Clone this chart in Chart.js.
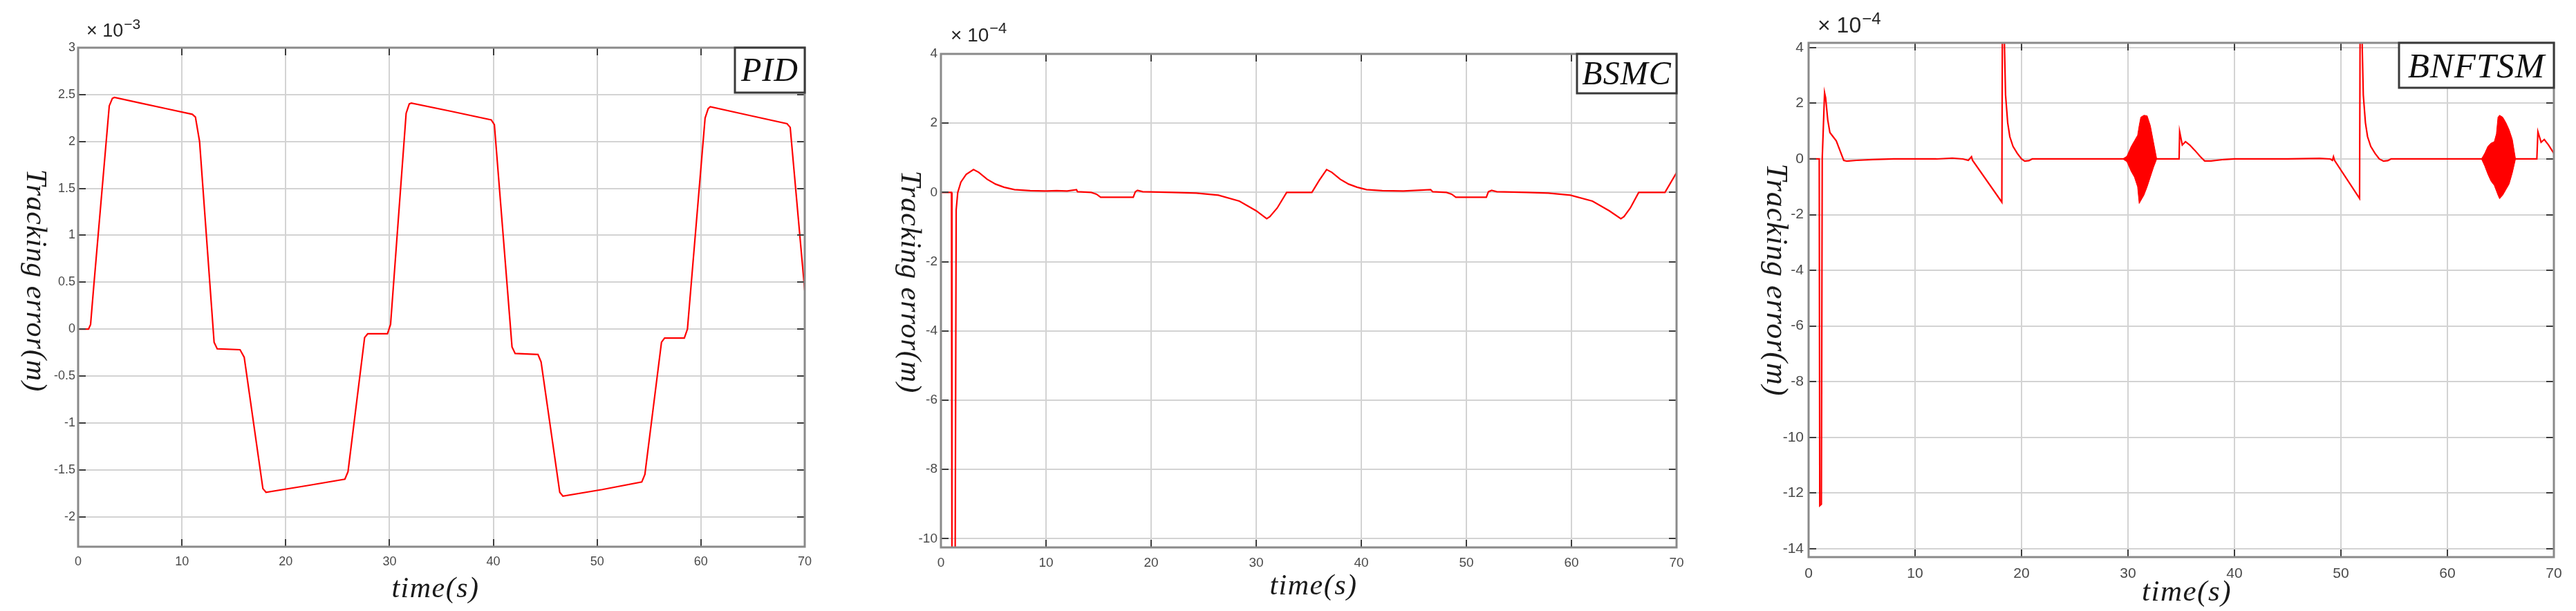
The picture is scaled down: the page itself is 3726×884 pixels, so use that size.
<!DOCTYPE html>
<html><head><meta charset="utf-8">
<script src="https://cdn.jsdelivr.net/npm/chart.js@4.4.1/dist/chart.umd.min.js"></script>
<style>
html,body{margin:0;padding:0;background:#fff;width:3726px;height:884px;overflow:hidden}
canvas{position:absolute;top:0}
</style>
</head><body>
<canvas id="c1" width="1240" height="884" style="left:0px"></canvas>
<canvas id="c2" width="1230" height="884" style="left:1240px"></canvas>
<canvas id="c3" width="1256" height="884" style="left:2470px"></canvas>
<script>
// ---- tick labels ----
const timeTicks = [0,10,20,30,40,50,60,70];
const pidTicks = [-2,-1.5,-1,-0.5,0,0.5,1,1.5,2,2.5,3];
const bsmcTicks = [-10,-8,-6,-4,-2,0,2,4];
const bnftsmTicks = [-14,-12,-10,-8,-6,-4,-2,0,2,4];

// ---- PID tracking error (x 10^-3 m) ----
const pidTime  = [0,1.0,1.2,1.5,3.0,3.3,3.5,6.0,8.5,11.0,11.3,11.7,13.1,13.4,15.6,16.0,17.8,18.1,22.0,25.7,26.0,27.6,27.9,29.8,30.1,31.6,31.9,32.1,36.0,39.8,40.1,41.8,42.1,44.3,44.6,46.4,46.7,50.5,54.3,54.6,56.2,56.5,58.4,58.7,60.4,60.7,60.9,64.6,68.3,68.6,70.0];
const pidError = [0,0,0.05,0.45,2.38,2.46,2.47,2.41,2.35,2.29,2.26,2.0,-0.14,-0.21,-0.22,-0.3,-1.70,-1.74,-1.67,-1.60,-1.52,-0.09,-0.05,-0.05,0.05,2.30,2.40,2.41,2.32,2.23,2.18,-0.19,-0.26,-0.27,-0.35,-1.74,-1.78,-1.71,-1.63,-1.55,-0.14,-0.095,-0.095,0,2.25,2.35,2.37,2.28,2.19,2.15,0.41];

// ---- BSMC tracking error (x 10^-4 m) ----
const bsmcTime  = [0,1.0,1.05,1.35,1.45,1.6,1.9,2.4,3.1,3.6,4.4,5.2,6.0,7.0,8.5,10,11,12,12.9,13.0,14.3,14.8,15.2,18.3,18.5,18.7,19.2,22,24.3,26.4,28.4,30.0,31.0,31.3,32.0,32.9,35.3,36.0,36.7,37.2,38.0,38.8,39.6,40.5,42,44,46.6,46.8,48.1,48.6,49.0,51.9,52.1,52.4,52.9,55.7,57.8,59.9,62.0,63.6,64.7,65.0,65.6,66.4,68.9,70];
const bsmcError = [0,0,-11,-11,-0.5,0,0.3,0.52,0.66,0.58,0.38,0.24,0.15,0.08,0.05,0.04,0.05,0.04,0.08,0.02,0,-0.05,-0.14,-0.14,0.02,0.06,0.02,0,-0.02,-0.08,-0.25,-0.53,-0.76,-0.7,-0.45,0,0,0.35,0.66,0.58,0.38,0.24,0.15,0.08,0.05,0.04,0.08,0.02,0,-0.05,-0.14,-0.14,0.02,0.06,0.02,0,-0.02,-0.08,-0.25,-0.53,-0.76,-0.7,-0.45,0,0,0.57];

// ---- BNFTSM tracking error (x 10^-4 m) ----
const bnftsmTime  = [0,1.0,1.05,1.2,1.28,1.5,1.6,1.8,2.0,2.3,2.6,2.9,3.3,3.6,4.5,6,8,10,12,13.5,14.5,15.0,15.3,15.4,18.15,18.22,18.3,18.4,18.5,18.7,18.9,19.2,19.6,20.0,20.3,20.7,21.0,29.5,32.7,34.8,34.85,35.1,35.4,35.8,36.3,36.8,37.2,37.8,39,40,45,48,49.0,49.2,49.3,49.4,51.75,51.82,51.9,52.0,52.1,52.3,52.5,52.8,53.2,53.6,54.0,54.4,54.7,63.2,66.4,68.4,68.5,68.8,69.1,69.5,70];
const bnftsmError = [0,0,-12.45,-12.4,0,2.38,2.2,1.4,0.95,0.8,0.65,0.35,-0.05,-0.08,-0.05,-0.02,0,0,0,0.03,0,-0.05,0.08,-0.05,-1.55,7,7,4,2.3,1.3,0.8,0.45,0.2,0,-0.08,-0.06,0,0,0,0,0.98,0.5,0.62,0.5,0.3,0.08,-0.07,-0.07,-0.02,0,0,0.02,0,-0.05,0.08,-0.05,-1.42,7,7,4,2.3,1.3,0.8,0.45,0.2,0,-0.08,-0.06,0,0,0,0,0.98,0.6,0.7,0.5,0.2];
// chattering bursts (envelopes)
const burst1Time  = [29.5,29.9,30.3,30.6,30.9,31.05,31.2,31.5,31.8,32.1,32.4,32.7];
const burst1Upper = [0,0.1,0.45,0.65,0.85,1.2,1.5,1.57,1.55,1.2,0.6,0];
const burst1Lower = [0,-0.1,-0.45,-0.65,-1.0,-1.6,-1.5,-1.3,-1.0,-0.65,-0.3,0];
const burst2Time  = [63.2,63.5,63.8,64.1,64.4,64.6,64.75,64.9,65.2,65.5,65.8,66.1,66.4];
const burst2Upper = [0,0.2,0.45,0.57,0.62,0.9,1.5,1.57,1.5,1.3,1.05,0.7,0];
const burst2Lower = [0,-0.25,-0.55,-0.8,-0.95,-1.15,-1.3,-1.43,-1.3,-1.1,-0.9,-0.5,0];

const pts = (xs, ys) => xs.map((x, i) => ({x, y: ys[i]}));

function txt(ctx, s, x, y, font, color, align, base, rot, sp) {
  ctx.save(); ctx.translate(x, y); if (rot) ctx.rotate(rot);
  ctx.font = font; ctx.fillStyle = color; ctx.textAlign = align; ctx.textBaseline = base;
  if ('letterSpacing' in ctx) ctx.letterSpacing = (sp || 0) + 'px';
  ctx.fillText(s, 0, 0); ctx.restore();
}

const SERIF = '"Liberation Serif","DejaVu Serif",serif';
const SANS = '"Liberation Sans",Arial,sans-serif';

const decor = {
  id: 'decor',
  afterDatasetsDraw(chart, args, o) {
    const ctx = chart.ctx, a = chart.chartArea, off = o.off;
    const xs = chart.scales.x, ys = chart.scales.y;
    ctx.save();
    ctx.strokeStyle = '#3c3c3c'; ctx.lineWidth = 2;
    ys.ticks.forEach(t => {
      const y = Math.round(ys.getPixelForValue(t.value));
      ctx.beginPath(); ctx.moveTo(a.left, y); ctx.lineTo(a.left + 11, y);
      ctx.moveTo(a.right, y); ctx.lineTo(a.right - 11, y); ctx.stroke();
    });
    xs.ticks.forEach(t => {
      const x = Math.round(xs.getPixelForValue(t.value));
      ctx.beginPath(); ctx.moveTo(x, a.bottom); ctx.lineTo(x, a.bottom - 11);
      ctx.moveTo(x, a.top); ctx.lineTo(x, a.top + 11); ctx.stroke();
    });
    ctx.strokeStyle = '#8a8a8a'; ctx.lineWidth = 3;
    ctx.strokeRect(a.left, a.top, a.right - a.left, a.bottom - a.top);
    // label box
    const b = o.box;
    ctx.fillStyle = '#fff';
    ctx.fillRect(b.l - off, b.t, b.r - b.l, b.b - b.t);
    ctx.strokeStyle = '#3a3a3a'; ctx.lineWidth = 3;
    ctx.strokeRect(b.l - off, b.t, b.r - b.l, b.b - b.t);
    txt(ctx, b.text, (b.l + b.r) / 2 - off, b.base, 'italic ' + b.size + 'px ' + SERIF, '#111', 'center', 'alphabetic', 0, 1);
    ctx.restore();
  },
  afterDraw(chart, args, o) {
    const ctx = chart.ctx, off = o.off;
    txt(ctx, 'Tracking error(m)', o.ylab.x - off, o.ylab.y, 'italic ' + o.ylab.size + 'px ' + SERIF, '#1a1a1a', 'center', 'middle', Math.PI / 2, 1);
    txt(ctx, 'time(s)', o.xlab.x - off, o.xlab.y, 'italic ' + o.xlab.size + 'px ' + SERIF, '#1a1a1a', 'center', 'middle', 0, 1.5);
    const e = o.exp;
    ctx.save();
    ctx.font = e.size + 'px ' + SANS;
    const w = ctx.measureText('\u00d7 10').width;
    ctx.restore();
    txt(ctx, '\u00d7 10', e.x - off, e.y, e.size + 'px ' + SANS, '#262626', 'left', 'alphabetic', 0, 0);
    txt(ctx, e.pow, e.x - off + w + 1, e.y - e.raise, e.esize + 'px ' + SANS, '#262626', 'left', 'alphabetic', 0, 0);
  }
};

function makeChart(id, p) {
  const YW = 70, XH = 60, H = 884;
  const cw = document.getElementById(id).width;
  const fitY = s => { s.width = YW; s.paddingTop = s.paddingBottom = s.paddingLeft = s.paddingRight = 0; };
  const fitX = s => { s.height = XH; s.paddingTop = s.paddingBottom = s.paddingLeft = s.paddingRight = 0; };
  const datasets = [{
    data: pts(p.time, p.err), borderColor: '#ff0000', borderWidth: 2.2,
    pointRadius: 0, fill: false, tension: 0
  }];
  (p.bursts || []).forEach(bu => {
    datasets.push({ data: pts(bu[0], bu[1]), borderColor: '#ff0000', borderWidth: 1, pointRadius: 0, fill: false });
    datasets.push({ data: pts(bu[0], bu[2]), borderColor: '#ff0000', borderWidth: 1, pointRadius: 0, fill: '-1', backgroundColor: '#ff0000' });
  });
  return new Chart(document.getElementById(id), {
    type: 'line',
    data: { datasets },
    plugins: [decor],
    options: {
      responsive: false, animation: false, devicePixelRatio: 1,
      layout: { padding: { left: p.L - p.off - YW, top: p.T, right: cw - (p.R - p.off), bottom: H - p.B - XH } },
      plugins: { legend: { display: false }, tooltip: { enabled: false }, decor: p },
      scales: {
        x: {
          type: 'linear', min: 0, max: 70,
          afterBuildTicks: s => { s.ticks = timeTicks.map(v => ({ value: v })); },
          afterFit: fitX,
          grid: { color: '#d3d3d3', lineWidth: 2, drawTicks: false },
          border: { display: false },
          ticks: { padding: p.tpad, color: '#4a4a4a', font: { family: SANS, size: p.tsize }, maxRotation: 0, callback: v => String(v) }
        },
        y: {
          type: 'linear', min: p.ymin, max: p.ymax,
          afterBuildTicks: s => { s.ticks = p.yTicks.map(v => ({ value: v })); },
          afterFit: fitY,
          grid: { color: '#d3d3d3', lineWidth: 2, drawTicks: false },
          border: { display: false },
          ticks: { padding: p.ypad, color: '#4a4a4a', font: { family: SANS, size: p.tsize }, callback: v => String(v) }
        }
      }
    }
  });
}

makeChart('c1', {
  off: 0, L: 113, T: 69, R: 1164, B: 791, ymin: -2.32, ymax: 3, yTicks: pidTicks,
  time: pidTime, err: pidError, tsize: 18, tpad: 11, ypad: 4,
  ylab: { x: 50, y: 406, size: 42 }, xlab: { x: 630, y: 853, size: 42 },
  exp: { x: 125, y: 53, size: 27, esize: 21, raise: 11, pow: '\u22123' },
  box: { l: 1063, t: 69, r: 1164, b: 134, base: 117, text: 'PID', size: 48 }
});
makeChart('c2', {
  off: 1240, L: 1361, T: 78, R: 2425, B: 792, ymin: -10.25, ymax: 4, yTicks: bsmcTicks,
  time: bsmcTime, err: bsmcError, tsize: 19, tpad: 11, ypad: 5,
  ylab: { x: 1315, y: 408, size: 42 }, xlab: { x: 1900, y: 849, size: 42 },
  exp: { x: 1375, y: 60, size: 28, esize: 22, raise: 12, pow: '\u22124' },
  box: { l: 2281, t: 78, r: 2425, b: 135, base: 122, text: 'BSMC', size: 48 }
});
makeChart('c3', {
  off: 2470, L: 2616, T: 62, R: 3694, B: 806, ymin: -14.3, ymax: 4.17, yTicks: bnftsmTicks,
  time: bnftsmTime, err: bnftsmError, tsize: 21, tpad: 12, ypad: 7,
  bursts: [[burst1Time, burst1Upper, burst1Lower], [burst2Time, burst2Upper, burst2Lower]],
  ylab: { x: 2568, y: 405, size: 44 }, xlab: { x: 3163, y: 858, size: 43 },
  exp: { x: 2629, y: 47, size: 32, esize: 24, raise: 12, pow: '\u22124' },
  box: { l: 3470, t: 62, r: 3694, b: 127, base: 112, text: 'BNFTSM', size: 51 }
});
</script>
</body></html>
